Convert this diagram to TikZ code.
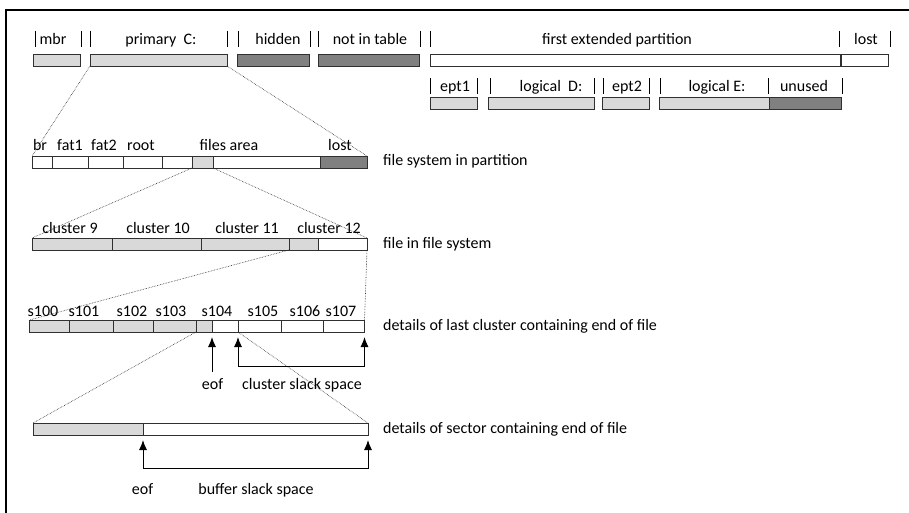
\documentclass[tikz,border=0pt]{standalone}
\usepackage{fontspec}
\setmainfont{Carlito}
\usetikzlibrary{arrows.meta}

\definecolor{usedgray}{HTML}{D9D9D9}
\definecolor{lostgray}{HTML}{808080}
\definecolor{edgegray}{HTML}{303030}

\tikzset{
  seg/.style={draw=edgegray, line width=0.9pt, minimum height=12pt, inner sep=0pt, outer sep=0pt, anchor=north west},
  used/.style={seg, fill=usedgray},
  lostseg/.style={seg, fill=lostgray},
  freeseg/.style={seg, fill=white},
  zoomline/.style={densely dotted, line width=0.6pt, draw=black!85},
  tick/.style={line width=0.6pt},
  lbl/.style={inner sep=0pt, anchor=base},
  ptr/.style={-{Latex[length=10pt,width=8pt]}, line width=1pt, shorten >=5pt},
  slack/.style={{Latex[length=10pt,width=8pt]}-{Latex[length=10pt,width=8pt]}, line width=1pt, shorten <=5pt, shorten >=5pt},
}

\begin{document}
\begin{tikzpicture}[x=1pt, y=-1pt, every node/.style={font=\fontsize{16}{19}\selectfont}]
  \useasboundingbox (0,0) rectangle (909,513);
  \draw[line width=1.2pt] (909,10) -- (6,10) -- (6,513);

  % disk layout
  \node[used, minimum width=47pt] (mbr) at (33,54) {};
  \node[used, minimum width=137pt] (primc) at (90,54) {};
  \node[lostseg, minimum width=72pt] (hidden) at (237,54) {};
  \node[lostseg, minimum width=101pt] (notintab) at (318,54) {};
  \node[freeseg, minimum width=410pt] (extpart) at (430,54) {};
  \node[freeseg, minimum width=47pt] (lostdisk) at (841,54) {};
  \foreach \x in {35,81,90,227,238,310,318,420,430,839,890}
    \draw[tick] (\x,31) -- (\x,47);
  \node[lbl] (lmbr) at (53,44.5) {mbr};
  \node[lbl] (lprimc) at (161,44.5) {primary\ \ C:};
  \node[lbl] (lhidden) at (278,44.5) {hidden};
  \node[lbl] (lnotintab) at (370,44.5) {not in table};
  \node[lbl] (lextpart) at (617,44.5) {first extended partition};
  \node[lbl] (llostdisk) at (866,44.5) {lost};

  % extended partition
  \node[used, minimum width=47pt] (ept1) at (430,97) {};
  \node[used, minimum width=106pt] (logd) at (488,97) {};
  \node[used, minimum width=47pt] (ept2) at (602,97) {};
  \node[used, minimum width=110pt] (loge) at (659,97) {};
  \node[lostseg, minimum width=72pt] (unused) at (769,97) {};
  \foreach \x in {430,477,490,594,603,649,660,768,842}
    \draw[tick] (\x,78) -- (\x,94);
  \node[lbl] (lept1) at (455,91.5) {ept1};
  \node[lbl] (llogd) at (551,91.5) {logical\ \ D:};
  \node[lbl] (lept2) at (627,91.5) {ept2};
  \node[lbl] (lloge) at (717,91.5) {logical E:};
  \node[lbl] (lunused) at (804,91.5) {unused};

  % file system in partition
  \node[freeseg, minimum width=20pt] (fsbr) at (32,156) {};
  \node[freeseg, minimum width=36pt] (fsfat1) at (52,156) {};
  \node[freeseg, minimum width=35pt] (fsfat2) at (88,156) {};
  \node[freeseg, minimum width=39pt] (fsroot) at (123,156) {};
  \node[freeseg, minimum width=30pt] (fsgap) at (162,156) {};
  \node[used, minimum width=21pt] (fsfile) at (192,156) {};
  \node[freeseg, minimum width=107pt] (fsfree) at (213,156) {};
  \node[lostseg, minimum width=47pt] (fslost) at (320,156) {};
  \node[lbl] (lbr) at (40,151) {br};
  \node[lbl] (lfat1) at (70,151) {fat1};
  \node[lbl] (lfat2) at (104,151) {fat2};
  \node[lbl] (lroot) at (141,151) {root};
  \node[lbl] (lfiles) at (229,151) {files area};
  \node[lbl] (lfslost) at (340,151) {lost};
  \node[lbl, anchor=base west] (dfs) at (383,166) {file system in partition};

  % file in file system
  \node[used, minimum width=80pt] (cl9) at (32,238) {};
  \node[used, minimum width=89pt] (cl10) at (112,238) {};
  \node[used, minimum width=88pt] (cl11) at (201,238) {};
  \node[used, minimum width=29pt] (cl12a) at (289,238) {};
  \node[freeseg, minimum width=49pt] (cl12b) at (318,238) {};
  \node[lbl] (lcl9) at (70,233) {cluster 9};
  \node[lbl] (lcl10) at (158,233) {cluster 10};
  \node[lbl] (lcl11) at (247,233) {cluster 11};
  \node[lbl] (lcl12) at (329,233) {cluster 12};
  \node[lbl, anchor=base west] (dfile) at (383,248) {file in file system};

  % last cluster
  \node[used, minimum width=39.5pt] (s100) at (29.5,320) {};
  \node[used, minimum width=44pt] (s101) at (69,320) {};
  \node[used, minimum width=40pt] (s102) at (113,320) {};
  \node[used, minimum width=43pt] (s103) at (153,320) {};
  \node[used, minimum width=16pt] (s104a) at (196,320) {};
  \node[freeseg, minimum width=26pt] (s104b) at (212,320) {};
  \node[freeseg, minimum width=43pt] (s105) at (238,320) {};
  \node[freeseg, minimum width=42pt] (s106) at (281,320) {};
  \node[freeseg, minimum width=41.5pt] (s107) at (323,320) {};
  \node[lbl] (ls100) at (43,316) {s100};
  \node[lbl] (ls101) at (84,316) {s101};
  \node[lbl] (ls102) at (132,316) {s102};
  \node[lbl] (ls103) at (171,316) {s103};
  \node[lbl] (ls104) at (217,316) {s104};
  \node[lbl] (ls105) at (263,316) {s105};
  \node[lbl] (ls106) at (305,316) {s106};
  \node[lbl] (ls107) at (341,316) {s107};
  \node[lbl, anchor=base west] (dcluster) at (383,330) {details of last cluster containing end of file};

  % last sector
  \node[used, minimum width=110pt] (secA) at (33,423) {};
  \node[freeseg, minimum width=225pt] (secB) at (143,423) {};
  \node[lbl, anchor=base west] (dsector) at (383,433) {details of sector containing end of file};

  % zoom lines
  \draw[zoomline] (primc.south west) -- (fsbr.north west);
  \draw[zoomline] (primc.south east) -- (fslost.north east);
  \draw[zoomline] (fsfile.south west) -- (cl9.north west);
  \draw[zoomline] (fsfile.south east) -- (cl12b.north east);
  \draw[zoomline] (cl12a.south west) -- (s100.north west);
  \draw[zoomline] (cl12b.south east) -- (s107.north east);
  \draw[zoomline] (s104a.south west) -- (secA.north west);
  \draw[zoomline] (s104b.south east) -- (secB.north east);

  % eof and slack
  \coordinate (eofA) at (212,372);
  \draw[ptr] (eofA) -- (s104a.south east);
  \draw[slack] (s105.south west) -- ++(0,34) -| (s107.south east);
  \node[lbl] (leofA) at (212.5,389) {eof};
  \node[lbl] (lclslack) at (302,389) {cluster slack space};
  \draw[slack] (secA.south east) -- ++(0,33) -| (secB.south east);
  \node[lbl] (leofB) at (142.5,494) {eof};
  \node[lbl] (lbufslack) at (256,494) {buffer slack space};
\end{tikzpicture}
\end{document}
